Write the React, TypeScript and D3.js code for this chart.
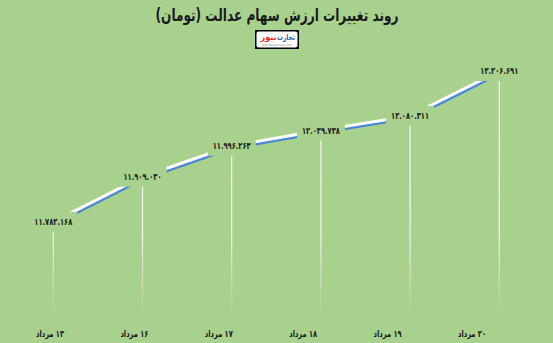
import React from "react";
import * as d3 from "d3";

const categories = ["۱۳ مرداد", "۱۶ مرداد", "۱۷ مرداد", "۱۸ مرداد", "۱۹ مرداد", "۲۰ مرداد"];
const values = [11782168, 11909030, 11996263, 12039738, 12080411, 12206691];
const title = "روند تغییرات ارزش سهام عدالت (تومان)";
const yDomain = [11500000, 12400000];

const W = 553;
const H = 343;
const BG = "#a9d18e";

const faDigits = (s: string) => s.replace(/\d/g, (d) => "۰۱۲۳۴۵۶۷۸۹"[+d]);
const fmt = (v: number) => faDigits(d3.format(",")(v).replace(/,/g, "."));

export default function App() {
  const x = d3.scalePoint<string>().domain(categories).range([53.3, 499.3]);
  const xAxis = d3.scalePoint<string>().domain(categories).range([50, 472]);
  const y = d3.scaleLinear().domain(yDomain).range([322, 2.4]);
  const plotBottom = 312;

  const pts = categories.map((c, i) => [x(c) as number, y(values[i])] as [number, number]);
  const line = d3.line<[number, number]>().x((d) => d[0]).y((d) => d[1]);
  const path = line(pts) || "";

  const font = "'DejaVu Sans', sans-serif";

  return (
    <svg
      width={W}
      height={H}
      style={{ position: "absolute", left: 0, top: 0, display: "block" }}
      fontFamily={font}
    >
      <defs>
        <linearGradient id="drop" gradientUnits="userSpaceOnUse" x1="0" y1="60" x2="0" y2={plotBottom}>
          <stop offset="0" stopColor="#ffffff" stopOpacity="0.95" />
          <stop offset="0.7" stopColor="#ffffff" stopOpacity="0.8" />
          <stop offset="1" stopColor="#ffffff" stopOpacity="0" />
        </linearGradient>
      </defs>
      <rect x={0} y={0} width={W} height={H} fill={BG} />

      {/* drop lines */}
      {pts.map((p, i) => (
        <line
          key={"d" + i}
          x1={p[0]}
          x2={p[0]}
          y1={p[1]}
          y2={plotBottom}
          stroke="url(#drop)"
          strokeWidth={1.2}
        />
      ))}

      {/* line with shadow */}
      <path d={path} fill="none" stroke="#4a86d6" strokeWidth={2.6} transform="translate(1.2,2.2)" />
      <path d={path} fill="none" stroke="#ffffff" strokeWidth={3} />

      {/* data labels */}
      {pts.map((p, i) => (
        <g key={"l" + i}>
          <rect x={p[0] - 24} y={p[1] - 10} width={48} height={20} fill={BG} />
          <text
            x={p[0]}
            y={p[1]}
            dy="0.35em"
            textAnchor="middle"
            fontSize={9.5}
            fontWeight="bold"
            fill="#1a1a1a"
            direction="ltr"
            textLength={38}
            lengthAdjust="spacingAndGlyphs"
          >
            {fmt(values[i])}
          </text>
        </g>
      ))}

      {/* x axis labels */}
      {categories.map((c) => (
        <text
          key={c}
          x={xAxis(c)}
          y={334}
          dy="0.35em"
          textAnchor="middle"
          fontSize={9.5}
          fontWeight="bold"
          fill="#1a1a1a"
          direction="rtl"
          textLength={28}
          lengthAdjust="spacingAndGlyphs"
        >
          {c}
        </text>
      ))}

      {/* title */}
      <text
        x={277}
        y={15}
        dy="0.35em"
        textAnchor="middle"
        fontSize={17}
        fontWeight="bold"
        fill="#1a1a1a"
        direction="rtl"
        textLength={243}
        lengthAdjust="spacingAndGlyphs"
      >
        {title}
      </text>

      {/* logo */}
      <g>
        <rect x={255} y={30} width={44} height={19} fill="#000" />
        <rect x={256.5} y={31.5} width={41} height={16} rx={2} fill="#fff" />
        <text
          x={295}
          y={40}
          textAnchor="start"
          fontSize={8}
          fontWeight="bold"
          direction="rtl"
          fill="#1f5fae"
          textLength={18}
          lengthAdjust="spacingAndGlyphs"
        >
          تجارت
        </text>
        <text
          x={276.5}
          y={40}
          textAnchor="start"
          fontSize={8}
          fontWeight="bold"
          direction="rtl"
          fill="#e3262a"
          textLength={16}
          lengthAdjust="spacingAndGlyphs"
        >
          نیوز
        </text>
        <text
          x={277}
          y={45.5}
          textAnchor="middle"
          fontSize={3}
          fill="#888"
          textLength={30}
          lengthAdjust="spacingAndGlyphs"
        >
          www.tejaratnews.com
        </text>
      </g>
    </svg>
  );
}
